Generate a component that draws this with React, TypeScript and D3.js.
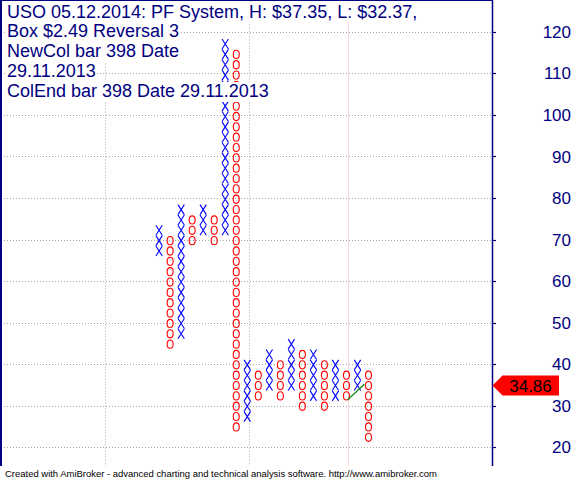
import React, { useEffect, useRef } from "react";
import * as d3 from "d3";

const boxSize = 2.49;
const colTypes = ["X","O","X","O","X","O","X","O","X","O","X","O","X","O","X","O","X","O","X","O"];
const colLowBox = [27, 18, 19, 28, 29, 28, 29, 10, 11, 13, 14, 13, 14, 12, 13, 12, 13, 13, 14, 9];
const colHighBox = [29, 28, 31, 30, 31, 30, 47, 46, 16, 15, 17, 16, 18, 17, 17, 16, 16, 15, 16, 15];
const yTicks = [20, 30, 40, 50, 60, 70, 80, 90, 100, 110, 120];
const vGridIdx = [-4.9, 8.15];
const selectedIdx = 17.1;
const greenIdx = [17.1, 18.62];
const greenVal = [31.4, 35.17];
const lastPrice = 34.86;
const titleLines = [
  "USO 05.12.2014: PF System, H: $37.35, L: $32.37,",
  "Box $2.49 Reversal 3",
  "NewCol bar 398 Date",
  "29.11.2013",
  "ColEnd bar 398 Date 29.11.2013",
];
const footer = "Created with AmiBroker - advanced charting and technical analysis software. http://www.amibroker.com";

const W = 576, H = 479;
const FONT = "Arial, 'Liberation Sans', sans-serif";
const NAVY = "#000080";

export default function App() {
  const ref = useRef<SVGSVGElement>(null);
  useEffect(() => {
    const svg = d3.select(ref.current);
    svg.selectAll("*").remove();
    const left = 1, right = 492, top = 0.5, bottom = 466;
    const y = d3.scaleLinear().domain([20, 120]).range([447.3, 31.7]);
    const x = d3.scaleLinear().domain([0, 19]).range([159.1, 368.5]);

    svg.append("rect").attr("width", W).attr("height", H).attr("fill", "#fff");

    // horizontal grid
    svg.append("g").selectAll("line").data(yTicks).join("line")
      .attr("x1", left).attr("x2", right)
      .attr("y1", d => Math.round(y(d)) + 0.5).attr("y2", d => Math.round(y(d)) + 0.5)
      .attr("stroke", "#a8a8a8").attr("stroke-dasharray", "1,2");
    // vertical grid
    svg.append("g").selectAll("line").data(vGridIdx).join("line")
      .attr("x1", d => Math.round(x(d)) + 0.5).attr("x2", d => Math.round(x(d)) + 0.5)
      .attr("y1", top).attr("y2", bottom)
      .attr("stroke", "#a8a8a8").attr("stroke-dasharray", "1,2");
    // selected bar line
    svg.append("line")
      .attr("x1", Math.round(x(selectedIdx)) + 0.5).attr("x2", Math.round(x(selectedIdx)) + 0.5)
      .attr("y1", top).attr("y2", bottom).attr("stroke", "#ffd8d8");

    // P&F columns
    const g = svg.append("g");
    colTypes.forEach((t, i) => {
      const cx = x(i);
      for (let k = colLowBox[i]; k <= colHighBox[i]; k++) {
        const cy = y(k * boxSize);
        if (t === "X") {
          const hw = 3.2, hh = 5.0;
          g.append("path")
            .attr("d", `M${cx - hw},${cy - hh}L${cx + hw},${cy + hh}M${cx + hw},${cy - hh}L${cx - hw},${cy + hh}`)
            .attr("stroke", "#0000ff").attr("stroke-width", 1.1).attr("fill", "none");
        } else {
          g.append("ellipse").attr("cx", cx).attr("cy", cy).attr("rx", 3.0).attr("ry", 4.1)
            .attr("stroke", "#ff0000").attr("stroke-width", 1.1).attr("fill", "none");
        }
      }
    });

    // green line
    const line = d3.line<number>().x((_, i) => x(greenIdx[i])).y(d => y(d));
    svg.append("path").attr("d", line(greenVal) as string)
      .attr("stroke", "#008000").attr("stroke-width", 1.2).attr("fill", "none");

    // frame
    svg.append("line").attr("x1", left).attr("x2", left).attr("y1", 0).attr("y2", bottom)
      .attr("stroke", NAVY).attr("stroke-width", 2);
    svg.append("line").attr("x1", 0).attr("x2", right).attr("y1", top).attr("y2", top)
      .attr("stroke", NAVY).attr("stroke-width", 1);
    svg.append("line").attr("x1", right + 0.5).attr("x2", right + 0.5).attr("y1", 0).attr("y2", bottom)
      .attr("stroke", NAVY).attr("stroke-width", 1.5);

    // y ticks and labels
    const ax = svg.append("g");
    ax.selectAll("line").data(yTicks).join("line")
      .attr("x1", right).attr("x2", right + 4)
      .attr("y1", d => Math.round(y(d)) + 0.5).attr("y2", d => Math.round(y(d)) + 0.5)
      .attr("stroke", NAVY).attr("stroke-width", 1.2);
    ax.selectAll("text").data(yTicks).join("text")
      .attr("x", 571).attr("y", d => y(d)).attr("dy", "0.36em")
      .attr("text-anchor", "end").attr("font-family", FONT).attr("font-size", 17)
      .attr("fill", NAVY).text(d => d);

    // last price marker
    const py = y(lastPrice);
    svg.append("path")
      .attr("d", `M${right + 0.5},${py}L${right + 10.5},${py - 10}L559,${py - 10}L559,${py + 10}L${right + 10.5},${py + 10}Z`)
      .attr("fill", "#ff0000");
    svg.append("text").attr("x", 530.5).attr("y", py).attr("dy", "0.36em")
      .attr("text-anchor", "middle").attr("font-family", FONT).attr("font-size", 17)
      .attr("fill", "#000").text(lastPrice.toFixed(2));

    // title lines with white background
    const tg = svg.append("g");
    titleLines.forEach((s, i) => {
      const base = 17.5 + i * 19.9;
      const rect = tg.append("rect").attr("fill", "#fff");
      const t = tg.append("text").attr("x", 7).attr("y", base)
        .attr("font-family", FONT).attr("font-size", 18).attr("fill", NAVY).text(s);
      const w = (t.node() as SVGTextElement).getComputedTextLength();
      rect.attr("x", 6).attr("y", base - 15).attr("width", w + 2).attr("height", 19.9);
    });

    // footer
    svg.append("text").attr("x", 5).attr("y", 476.5)
      .attr("font-family", FONT).attr("font-size", 9.5)
      .attr("textLength", 432).attr("lengthAdjust", "spacing")
      .attr("fill", "#000").text(footer);
  }, []);

  return (
    <svg ref={ref} width={W} height={H} style={{ display: "block", position: "absolute", left: 0, top: 0 }} />
  );
}
